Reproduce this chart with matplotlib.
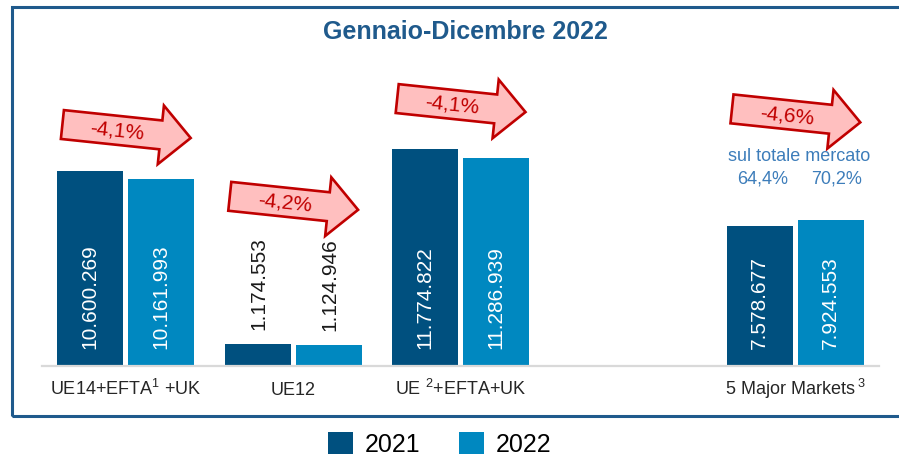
import matplotlib
matplotlib.use("Agg")
import matplotlib.pyplot as plt
import matplotlib.patches as mpatches
import matplotlib.transforms as mtransforms

plt.rcParams['font.family'] = ['Liberation Sans', 'DejaVu Sans']
plt.rcParams['mathtext.fontset'] = 'custom'
plt.rcParams['mathtext.rm'] = 'Liberation Sans'
plt.rcParams['mathtext.default'] = 'regular'

# data
categories = ['UE14+EFTA$^{1}$ +UK', 'UE12', 'UE $^{2}$+EFTA+UK', '5 Major Markets$\\,^{3}$']
slots = [0, 1, 2, 4]          # slot 3 is left empty in the original
years = ['2021', '2022']
v2021 = [10600269, 1174553, 11774822, 7578677]
v2022 = [10161993, 1124946, 11286939, 7924553]
changes = ['-4,1%', '-4,2%', '-4,1%', '-4,6%']
share_title = 'sul totale mercato'
share_labels = ['64,4%', '70,2%']

# layout of the red arrows (centre height in data units)
arrow_y = [12.75e6, 8.85e6, 14.16e6, 13.6e6]

c2021 = '#00507F'
c2022 = '#0088C0'
navy = '#1F5A8C'
red = '#C00000'

W, H = 899, 454
fig = plt.figure(figsize=(W / 100, H / 100), dpi=100)
ax = fig.add_axes([42 / W, 88 / H, 837 / W, 326 / H])

bw = 0.394
off = 0.212
ax.bar([s - off for s in slots], v2021, bw, color=c2021)
ax.bar([s + off for s in slots], v2022, bw, color=c2022)

ax.set_xlim(-0.5, 4.5)
ax.set_ylim(0, 326 / 18.41 * 1e6)
ax.set_xticks([])
ax.set_yticks([])
for side in ['top', 'left', 'right']:
    ax.spines[side].set_visible(False)
ax.spines['bottom'].set_color('#D9D9D9')
ax.spines['bottom'].set_linewidth(1.6)


def fmt(v):
    return f"{v:,}".replace(',', '.')


# value labels
for vals, d in [(v2021, -off), (v2022, off)]:
    for s, v in zip(slots, vals):
        if v > 3e6:
            ax.annotate(fmt(v), (s + d, 0), xytext=(0, 12.2), textcoords='offset points',
                        rotation=90, ha='center', va='bottom', color='white', fontsize=15)
        else:
            ax.annotate(fmt(v), (s + d, v), xytext=(1, 10), textcoords='offset points',
                        rotation=90, ha='center', va='bottom', color='#1a1a1a', fontsize=15)

# category labels
for s, lab in zip(slots, categories):
    ax.annotate(lab, (s, 0), xytext=(0, -21.2), textcoords='offset points',
                ha='center', va='baseline', color='#262626', fontsize=13,
                annotation_clip=False)

# arrows
L, sh, hh, hl = 129, 14.5, 29.5, 30
arrow_pts = [(-L / 2, -sh), (L / 2 - hl, -sh), (L / 2 - hl, -hh), (L / 2, 0),
             (L / 2 - hl, hh), (L / 2 - hl, sh), (-L / 2, sh)]
ang = -6
for s, y, txt in zip(slots, arrow_y, changes):
    tr = mtransforms.Affine2D().rotate_deg(ang) + \
        mtransforms.ScaledTranslation(s + 0.005, y, ax.transData)
    poly = mpatches.Polygon(arrow_pts, closed=True, transform=tr,
                            facecolor='#FFBFBF', edgecolor=red, linewidth=1.9,
                            joinstyle='miter', clip_on=False)
    ax.add_artist(poly)
    ax.text(-9, -1, txt, transform=tr, rotation=ang, rotation_mode='anchor',
            ha='center', va='center', color=red, fontsize=15)

# market share notes above 5 Major Markets
share_col = '#3D7DBA'
ax.text(4.025, 11.37e6, share_title, ha='center', va='center', color=share_col, fontsize=13)
ax.text(4 - off + 0.015, 10.14e6, share_labels[0], ha='center', va='center',
        color=share_col, fontsize=13)
ax.text(4 + off + 0.035, 10.14e6, share_labels[1], ha='center', va='center',
        color=share_col, fontsize=13)

# title
fig.text(465 / W, (H - 32) / H, 'Gennaio-Dicembre 2022', ha='center', va='center',
         fontsize=18, fontweight='bold', color=navy)

# frame
frame = mpatches.Rectangle((12 / W, (H - 416) / H), (910 - 12) / W, (416 - 7) / H,
                           transform=fig.transFigure, fill=False, edgecolor=navy,
                           linewidth=2.2)
fig.add_artist(frame)

# legend (drawn by hand, cut by the bottom edge as in the original)
for x0, col, lab in [(328, c2021, years[0]), (459, c2022, years[1])]:
    fig.add_artist(mpatches.Rectangle((x0 / W, (H - 457) / H), 25 / W, 25 / H,
                                      transform=fig.transFigure, facecolor=col,
                                      edgecolor='none'))
    fig.text((x0 + 37) / W, 2.5 / H, lab, ha='left', va='baseline', fontsize=18,
             color='black')

fig.savefig('out.png', dpi=100)
